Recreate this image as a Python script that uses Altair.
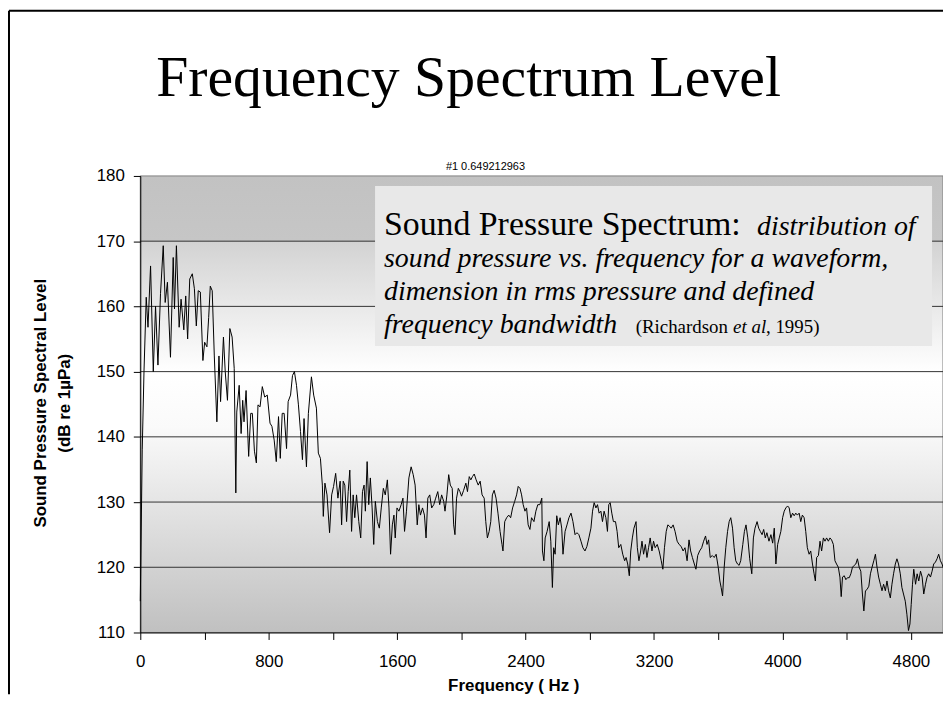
import altair as alt
import pandas as pd

# ---------------- data ----------------
freq = [0, 12, 23, 37, 48, 64, 81, 95, 110, 126, 143, 155, 169, 188, 205, 213, 225, 242, 254, 271,
        283, 295, 308, 324, 337, 349, 361, 374, 390, 401, 415, 426, 436, 448, 461, 477, 490, 500, 518, 529,
        543, 558, 572, 585, 595, 601, 616, 628, 638, 646, 659, 675, 688, 698, 711, 723, 733, 746, 760, 775,
        791, 808, 820, 834, 847, 861, 872, 884, 896, 911, 921, 936, 948, 960, 973, 985, 998, 1010, 1020, 1035,
        1047, 1066, 1080, 1097, 1109, 1122, 1134, 1140, 1150, 1163, 1179, 1192, 1204, 1217, 1231, 1245,
        1254, 1264, 1274, 1285, 1295, 1305, 1316, 1326, 1336, 1347, 1361, 1373, 1384, 1394, 1402, 1413, 1423,
        1433, 1444, 1454, 1464, 1477, 1489, 1501, 1514, 1526, 1539, 1549, 1559, 1570, 1580, 1588, 1599, 1611,
        1625, 1636, 1646, 1658, 1673, 1687, 1700, 1712, 1725, 1735, 1745, 1758, 1770, 1780, 1791, 1803, 1815,
        1828, 1840, 1853, 1865, 1877, 1890, 1898, 1910, 1921, 1931, 1943, 1952, 1960, 1970, 1981, 1991, 2001,
        2014, 2028, 2038, 2049, 2059, 2069, 2080, 2092, 2105, 2117, 2129, 2142, 2152, 2162, 2173, 2183, 2193,
        2204, 2216, 2228, 2241, 2253, 2259, 2270, 2282, 2295, 2307, 2319, 2332, 2344, 2354, 2365, 2375, 2385,
        2396, 2406, 2416, 2427, 2437, 2452, 2464, 2476, 2489, 2501,
        2505, 2514, 2522, 2534, 2547, 2557, 2567, 2575, 2584, 2594, 2604, 2615, 2625, 2633, 2646, 2658, 2670,
        2683, 2695, 2708, 2720, 2732, 2745, 2757, 2770, 2782, 2794, 2807, 2817, 2827, 2838, 2848, 2858, 2869,
        2879, 2889, 2900, 2910, 2918, 2927, 2937, 2947, 2960, 2970, 2980, 2993, 3005, 3017, 3026, 3036, 3046,
        3055, 3065, 3075, 3088, 3096, 3106, 3117, 3125, 3135, 3146, 3156, 3166, 3176, 3187, 3197, 3207, 3220,
        3232, 3245, 3255, 3265, 3276, 3286, 3296, 3307, 3319, 3331, 3344, 3356, 3369, 3381, 3393, 3406, 3418,
        3428, 3439, 3451, 3461, 3472, 3484, 3497, 3509, 3521, 3530, 3540, 3550, 3563, 3575, 3587, 3600, 3610,
        3618, 3627, 3637, 3647, 3658, 3668, 3678, 3689, 3699, 3709, 3720, 3730, 3740,
        3753, 3763, 3773, 3784, 3796, 3809, 3819, 3829, 3842, 3852, 3862, 3873, 3883, 3893, 3903, 3916, 3928,
        3939, 3949, 3959, 3970, 3980, 3990, 4001, 4011, 4021, 4032, 4042, 4052, 4063, 4073, 4083, 4093, 4104,
        4114, 4124, 4135, 4145, 4155, 4166, 4176, 4187, 4197, 4205, 4213, 4224, 4234, 4244, 4255, 4265, 4275,
        4286, 4296, 4306, 4317, 4327, 4337, 4348, 4358, 4366, 4374, 4385, 4395, 4405, 4416, 4426, 4436, 4447,
        4457, 4467, 4478, 4488, 4498, 4507, 4517, 4527, 4538, 4548, 4558, 4569, 4579, 4589, 4599, 4610, 4620,
        4630, 4641, 4651, 4661, 4672, 4682, 4692, 4703, 4713, 4723, 4734, 4744, 4754, 4765, 4775, 4785, 4794,
        4802, 4810, 4818, 4829, 4839, 4849, 4860, 4870, 4880, 4891, 4901, 4911, 4922, 4932, 4942, 4953, 4963,
        4973, 4984, 4994, 5000]

level = [114.8, 138, 150, 161.4, 156.8, 166.2, 150, 160, 151, 162, 169.3, 160.6, 163.7, 152.2, 167.5, 159.6,
         169.3, 156.8, 161.1, 156.4, 161.6, 155, 164.2, 165, 162.7, 157, 162.4, 162.2, 151.7, 154.5, 153.8,
         158.3, 163.1, 162.4, 152.4, 142.3, 152.4, 145.4, 155.3, 150, 145.6, 156.6, 155.3, 150.5, 131.4, 143.8,
         147.9, 140.5, 145.6, 142.3, 147.1, 137, 143.6, 143.6, 137.8, 136, 144.9, 144.6, 147.7, 146.1, 146.4,
         142.1, 141.6, 139.5, 136.2, 143.1, 136.7, 143.6, 143.6, 138.2, 145.4, 146.4, 149.4, 150, 147.9, 144.9,
         140.8, 136.5, 142.8, 135.4, 143.6, 149.2, 146.4, 144.4, 137.5, 136.7, 132.6, 127.8, 132.9, 131.1,
         125.3, 131.1, 132.4, 134.4, 130.6, 133.2,
         126.5, 133.2, 132.6, 127, 131.6, 134.9, 125.5, 131.1, 127.6, 131.1, 127, 124.5, 131.6, 132.6, 128.6,
         136.2, 129.6, 133.7, 129.1, 123.5, 130.1, 127, 126, 129.1, 132.1, 131.1, 133.4, 129.1, 122, 126.5, 128,
         124.5, 129.1, 128.6, 129.6, 130.6, 125.5, 128.6, 133.7, 135.4, 134.2, 132.6, 126.5, 129.6, 128, 129.1,
         128, 124.5, 130.6, 131.1, 129.1, 129.6, 130.6, 131.6, 129.6, 131.1, 130.1, 128.6, 131.1, 134.2, 132.6,
         132.1, 126.5, 125, 130.6, 132.1, 131.6, 130.9, 131.8, 132.9, 131.6, 133.9, 133.4, 133.9, 134.3, 133.4,
         132.6, 133.2, 131.1, 130.6, 127, 124.5, 125.5, 127, 131.1, 131.8, 130.6, 128.3, 125.5, 123.5, 122.5,
         127, 127.6, 128, 127.6, 129.1, 130.1, 131.1, 132.4, 132.1, 131.1, 129.6, 128.6, 129.1, 126.5, 125.8,
         127.6, 127, 128.6, 129.6, 129.6, 130.6,
         122.5, 121, 124.5, 125.5, 127, 124, 116.9, 123, 122, 127.9, 126.5, 127.6, 126, 122, 125.5, 126.5, 127.6,
         128.3, 127, 125, 125.3, 125, 124, 123, 122.5, 123.2, 124.5, 126, 128.6, 129.9, 129.1, 129.6, 128.3,
         128.6, 127, 128.6, 127.6, 125.5, 129.6, 129.9, 128.3, 127, 127, 125.5, 123, 123.5, 122, 121, 121.5,
         120.5, 118.7, 122.5, 124.5, 126, 127, 123, 121, 122.5, 124, 122, 123.5, 121.5, 123, 124.5, 122.5, 124,
         123, 123.5, 122.5, 121, 119.7, 123, 125.5, 126.5, 126.3, 126, 126.5, 125.5, 124, 123.5, 123.2, 122.5,
         123, 121, 124.2, 122.5, 121.5, 120.5, 119.7, 121.8, 122.5, 123, 124, 124.8, 123.5, 124.2, 121.5, 121.8,
         121.5, 122, 120, 117.9, 116.9, 115.6, 120, 123, 125.5, 127, 127.6, 126, 123, 121, 120.5, 120.3, 121,
         123.5, 125.5, 126.5, 124.5, 121.3, 119, 124.5, 126, 127, 126, 125.5, 125, 125.8, 124.5, 125.3, 124, 125,
         123.7, 126, 120.5, 123.5, 124.5, 125.5, 127.6, 128.6, 129.1, 129.4, 129.1, 127.6, 128.3, 127.9, 128.3,
         128, 128.3, 127, 128, 127.6, 125.5, 123, 122, 122.5, 120.5, 119, 117.9, 121.5, 121.8, 124, 122.5, 124.5,
         124, 124.5, 124, 124.5, 124.2, 123.5, 121, 120.5, 120, 118.5, 115.5, 118.5, 118.7, 118.1, 118.4, 118.4,
         119, 120, 120.3, 120.5, 121.3, 120, 119.4, 115.9, 113.3, 116.4, 116.6, 117.1, 119, 120, 121, 122, 120,
         118.5, 117.4, 116.4, 117.4, 116.4, 117.9, 116.4, 115.3, 117.4, 119, 120.5, 121.3, 120.5, 119, 116.9,
         115.9, 114.8, 112.8, 110.3, 111.3, 114.3, 117.4, 119.7, 117.4, 119, 117.9, 119.4, 118.5, 115.9, 117.4,
         118.5, 119, 118.5, 119.4, 120.5, 120.8, 121.3, 122, 121, 120.5, 120]

y_ticks = [110, 120, 130, 140, 150, 160, 170, 180]
grid_levels = [120, 130, 140, 150, 160, 170]
x_ticks = [0, 400, 800, 1200, 1600, 2000, 2400, 2800, 3200, 3600, 4000, 4400, 4800]

title_text = "Frequency Spectrum Level"
series_label = "#1  0.649212963"
x_title = "Frequency ( Hz )"
y_title = ["Sound Pressure Spectral Level", "(dB re 1µPa)"]

# ---------------- layout ----------------
W, H = 807, 459
PAD_L, PAD_T, PAD_B = 133, 167, 62
SERIF = "Liberation Serif"
SANS = "Liberation Sans"

df = pd.DataFrame({"freq": freq, "level": level})
one = pd.DataFrame({"k": [0]})

x_scale = alt.Scale(domain=[0, 5000], nice=False, zero=False)
y_scale = alt.Scale(domain=[110, 180], nice=False, zero=False)

x_axis = alt.Axis(
    values=x_ticks, format="d",
    labelExpr="datum.value % 800 === 0 ? datum.label : ''",
    title=x_title, titleFont=SANS, titleFontSize=17, titleFontWeight="bold", titleColor="black",
    titleX=375, titleY=58, titleAlign="center", titleBaseline="alphabetic",
    labelFont=SANS, labelFontSize=17, labelColor="black", labelPadding=14,
    labelFlush=False, labelOverlap=False,
    tickSize=7, tickColor="black", domainColor="black", grid=False, zindex=1,
)
y_axis = alt.Axis(
    values=y_ticks, format="d",
    title=y_title, titleFont=SANS, titleFontSize=17, titleFontWeight="bold", titleColor="black",
    titleAngle=270, titleX=-100, titleY=228, titleAlign="center", titleBaseline="middle",
    titleLineHeight=24,
    labelFont=SANS, labelFontSize=17, labelColor="black", labelPadding=9,
    labelFlush=False, labelOverlap=False,
    tickSize=7, tickColor="black", domainColor="black", grid=False, zindex=1,
)

gradient = alt.LinearGradient(
    gradient="linear", x1=0, x2=0, y1=0, y2=1,
    stops=[
        alt.GradientStop(color="#c2c2c2", offset=0),
        alt.GradientStop(color="#c6c6c6", offset=0.142),
        alt.GradientStop(color="#d3d3d3", offset=0.146),
        alt.GradientStop(color="#ffffff", offset=0.43),
        alt.GradientStop(color="#fafafa", offset=0.55),
        alt.GradientStop(color="#c0c0c0", offset=1),
    ],
)

bg = alt.Chart(one).mark_rect(color=gradient, stroke="#808080", strokeWidth=1).encode(
    x=alt.value(0), x2=alt.value(W), y=alt.value(0), y2=alt.value(H)
)

grid = alt.Chart(pd.DataFrame({"g": grid_levels})).mark_rule(color="#333333", strokeWidth=1).encode(
    y=alt.Y("g:Q", scale=y_scale, axis=y_axis)
)

line = alt.Chart(df).mark_line(color="black", strokeWidth=1).encode(
    x=alt.X("freq:Q", scale=x_scale, axis=x_axis),
    y=alt.Y("level:Q", scale=y_scale, axis=y_axis),
)

box = alt.Chart(one).mark_rect(fill="#e8e8e8").encode(
    x=alt.value(236), x2=alt.value(796), y=alt.value(10), y2=alt.value(171)
)


def txt(text, x, y, size, font=SERIF, style="normal", align="left", weight="normal"):
    return alt.Chart(one).mark_text(
        text=text, font=font, fontSize=size, fontStyle=style, fontWeight=weight,
        align=align, baseline="alphabetic", color="black",
    ).encode(x=alt.value(x), y=alt.value(y))


texts = [
    txt(title_text, 330, -80, 58, align="center"),
    txt(series_label, 347, -6, 11, font=SANS, align="center"),
    txt("Sound Pressure Spectrum:", 245, 59, 34),
    txt("distribution of", 620, 59, 28, style="italic"),
    txt("sound pressure vs. frequency for a waveform,", 245, 92, 28, style="italic"),
    txt("dimension in rms pressure and defined", 245, 125, 28, style="italic"),
    txt("frequency bandwidth", 245, 158, 28, style="italic"),
    txt("(Richardson ", 498, 158, 19),
    txt("et al", 596, 158, 19, style="italic"),
    txt(", 1995)", 629, 158, 19),
]

frame_left = alt.Chart(one).mark_rule(color="black", strokeWidth=2).encode(
    x=alt.value(-132), y=alt.value(-166), y2=alt.value(H + PAD_B)
)
frame_top = alt.Chart(one).mark_rule(color="black", strokeWidth=2).encode(
    x=alt.value(-132), x2=alt.value(W), y=alt.value(-166)
)

chart = alt.layer(bg, grid, line, box, *texts, frame_left, frame_top).properties(
    width=W, height=H,
    padding={"left": PAD_L, "top": PAD_T, "right": 0, "bottom": PAD_B},
    autosize=alt.AutoSizeParams(type="none"),
    background="white",
).configure_view(stroke=None)

chart.save("out.html", embed_options={"renderer": "svg", "actions": False})
